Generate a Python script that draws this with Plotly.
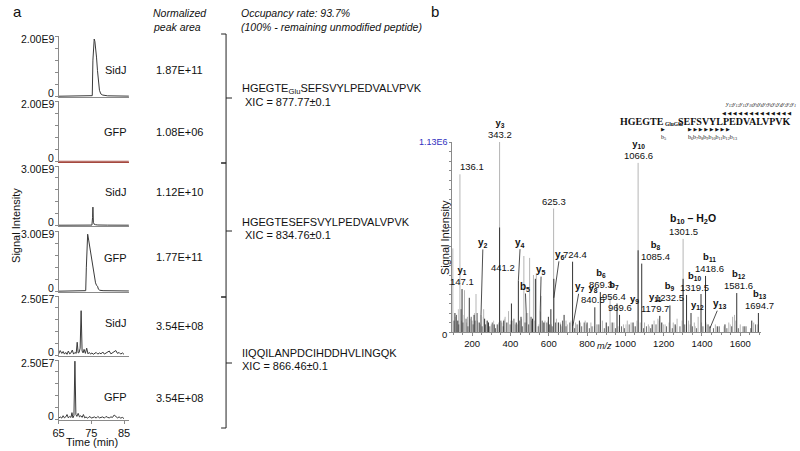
import plotly.graph_objects as go

W, H = 800, 451
FONT = "Liberation Sans, Arial, sans-serif"
SERIF = "Liberation Serif, Times New Roman, serif"
AXIS_GREY = "#8a8a8a"
RED = "#a5483f"


def px(x):
    return x / W


def py(y):
    return 1 - y / H


# ---------------- panel a: extracted ion chromatograms ----------------
t_sidj_mod = [65, 68, 71, 73, 74.5, 75.3, 75.5, 75.7, 75.9, 76.1, 76.3, 76.6,
              76.9, 77.2, 77.5, 77.9, 78.5, 80, 83, 86.5]
i_sidj_mod = [0.002e9, 0.003e9, 0.004e9, 0.005e9, 0.008e9, 0.02e9, 1.2e9, 1.75e9,
              1.9e9, 1.82e9, 1.65e9, 1.3e9, 0.85e9, 0.45e9, 0.2e9, 0.08e9, 0.04e9,
              0.015e9, 0.008e9, 0.005e9]

t_gfp_mod = [65, 86.5]
i_gfp_mod = [0, 0]

t_sidj_unmod = [65, 70, 74, 75.2, 75.4, 75.5, 75.65, 75.9, 76.3, 77, 80, 86.5]
i_sidj_unmod = [0.003e9, 0.004e9, 0.006e9, 0.01e9, 0.4e9, 0.92e9, 0.15e9, 0.05e9,
                0.03e9, 0.015e9, 0.008e9, 0.005e9]

t_gfp_unmod = [65, 70, 72.5, 73.3, 73.5, 73.7, 73.9, 74.2, 74.5, 74.8, 75.2, 75.6,
               76.0, 76.3, 76.6, 76.9, 77.2, 77.6, 78.6, 81, 86.5]
i_gfp_unmod = [0.005e9, 0.006e9, 0.01e9, 0.03e9, 1.2e9, 2.5e9, 2.84e9, 2.55e9,
               2.25e9, 1.9e9, 1.45e9, 0.95e9, 0.6e9, 0.42e9, 0.3e9, 0.25e9, 0.1e9,
               0.05e9, 0.03e9, 0.02e9, 0.015e9]

t_sidj_ctrl = [65.0, 65.5, 66.0, 66.4, 66.8, 67.2, 67.6, 68.0, 68.4, 68.8, 69.2, 69.6,
               70.0, 70.4, 70.7, 71.0, 71.3, 71.6, 71.9, 72.2, 72.5, 72.8, 73.2, 73.6,
               74.0, 74.4, 74.8, 75.2, 75.6, 76.0, 76.5, 77.0, 77.5, 78.0, 78.5, 79.0,
               79.5, 80.0, 80.5, 81.0, 81.5, 82.0, 82.5, 83.0, 83.5, 84.0, 84.5, 85.0]
i_sidj_ctrl = [0.05e7, 0.2e7, 0.08e7, 0.16e7, 0.05e7, 0.12e7, 0.04e7, 0.18e7, 0.06e7,
               0.1e7, 0.22e7, 0.05e7, 0.12e7, 0.08e7, 0.55e7, 0.1e7, 0.12e7, 0.3e7,
               1.88e7, 0.18e7, 0.1e7, 0.25e7, 0.08e7, 0.3e7, 0.06e7, 0.12e7, 0.05e7,
               0.1e7, 0.04e7, 0.08e7, 0.12e7, 0.05e7, 0.1e7, 0.06e7, 0.14e7, 0.05e7,
               0.09e7, 0.12e7, 0.18e7, 0.06e7, 0.1e7, 0.15e7, 0.2e7, 0.08e7, 0.12e7,
               0.05e7, 0.1e7, 0.04e7]

t_gfp_ctrl = [65.0, 65.5, 66.0, 66.4, 66.8, 67.2, 67.6, 68.0, 68.4, 68.8, 69.1, 69.4,
              69.7, 70.0, 70.3, 70.6, 71.0, 71.4, 71.8, 72.2, 72.6, 73.0, 73.4, 73.8,
              74.2, 74.6, 75.0, 75.5, 76.0, 76.5, 77.0, 77.5, 78.0, 78.5, 79.0, 79.5,
              80.0, 80.5, 81.0, 81.5, 82.0, 82.5, 83.0, 83.5, 84.0, 84.5, 85.0]
i_gfp_ctrl = [0.04e7, 0.1e7, 0.05e7, 0.15e7, 0.06e7, 0.1e7, 0.2e7, 0.06e7, 0.12e7,
              0.08e7, 0.28e7, 0.06e7, 0.15e7, 2.45e7, 0.2e7, 0.12e7, 0.25e7, 0.1e7,
              0.15e7, 0.08e7, 0.2e7, 0.06e7, 0.1e7, 0.05e7, 0.08e7, 0.12e7, 0.05e7,
              0.08e7, 0.1e7, 0.05e7, 0.12e7, 0.06e7, 0.08e7, 0.1e7, 0.05e7, 0.12e7,
              0.08e7, 0.06e7, 0.1e7, 0.08e7, 0.18e7, 0.12e7, 0.06e7, 0.1e7, 0.05e7,
              0.08e7, 0.03e7]

samples = ["SidJ", "GFP", "SidJ", "GFP", "SidJ", "GFP"]
peak_areas = ["1.87E+11", "1.08E+06", "1.12E+10", "1.77E+11", "3.54E+08", "3.54E+08"]
y_max = [2.0e9, 2.0e9, 3.0e9, 3.0e9, 2.5e7, 2.5e7]
y_max_labels = ["2.00E9", "2.00E9", "3.00E9", "3.00E9", "2.50E7", "2.50E7"]
traces_t = [t_sidj_mod, t_gfp_mod, t_sidj_unmod, t_gfp_unmod, t_sidj_ctrl, t_gfp_ctrl]
traces_i = [i_sidj_mod, i_gfp_mod, i_sidj_unmod, i_gfp_unmod, i_sidj_ctrl, i_gfp_ctrl]
trace_colors = ["#3a3a3a", RED, "#3a3a3a", "#3a3a3a", "#3a3a3a", "#3a3a3a"]

# pixel layout of the six stacked panels
panel_top = [36, 101, 166, 231, 296, 360]
panel_base = [97, 162, 226, 292, 356, 420]
label_y = [70, 132, 192, 258, 323, 397]
area_y = [70, 132, 192, 257, 326, 398]

# ---------------- panel b: MS/MS spectrum (relative intensity, %) ----------------
light_mz = [99, 136.1, 160, 175, 200, 220, 232, 260, 275, 300, 343.2, 355, 372, 390,
            410, 425, 470, 490, 500, 510, 520, 535, 560, 580, 625.3, 640, 660, 690,
            740, 760, 790, 820, 850, 880, 920, 940, 990, 1010, 1030, 1066.6, 1100,
            1120, 1150, 1170, 1200, 1250, 1270, 1301.5, 1330, 1360, 1380, 1420, 1470,
            1540, 1560, 1570, 1600, 1670]
light_pct = [44, 83, 22, 8, 6, 20, 5, 12, 6, 4, 100, 5, 8, 11, 6, 4, 40, 10, 39, 6,
             30, 31, 19, 6, 65, 7, 5, 6, 5, 4, 6, 5, 4, 6, 19, 5, 4, 6, 5, 89, 5, 4,
             6, 7, 4, 5, 7, 49, 6, 5, 8, 5, 4, 5, 8, 9, 4, 5]

dark_mz = [110, 125, 147.1, 185, 210, 246.2, 265, 285, 315, 343.2, 365, 405, 430,
           441.2, 455, 482.2, 515, 530, 555.4, 575, 598, 611, 626.4, 650, 680, 724.4,
           760, 800, 840.5, 869.3, 900, 956.4, 969.6, 1040, 1066.6, 1085.4, 1140,
           1179.7, 1190, 1232.5, 1260, 1301.5, 1319.5, 1342.8, 1395, 1418.6, 1441.8,
           1480, 1520, 1581.6, 1620, 1660, 1694.7]
dark_pct = [10, 6, 22.6, 18, 9, 9, 7, 5, 4, 55, 6, 15, 5, 27, 8, 10, 7, 28, 11, 5, 8,
            12, 28, 5, 9, 37, 6, 5, 13, 21, 5, 15, 9, 5, 43, 36, 4, 8.5, 5, 14, 4, 28,
            19.5, 10, 20, 29.5, 3, 3, 4, 20.5, 3, 6, 10]

noise_mz = [105, 118, 130, 142, 152, 168, 178, 195, 205, 215, 226, 238, 252, 270, 280,
            292, 305, 322, 333, 350, 362, 380, 398, 418, 448, 462, 476, 495, 508, 545,
            566, 590, 604, 618, 635, 662, 672, 690, 710, 735, 748, 772, 785, 812, 826,
            858, 890, 912, 932, 948, 980, 995, 1020, 1052, 1095, 1110, 1132, 1160,
            1215, 1245, 1285, 1310, 1350, 1372, 1405, 1432, 1460, 1490, 1530, 1555,
            1590, 1630, 1655, 1680]
noise_pct = [6, 9, 4, 12, 5, 7, 3, 8, 4, 6, 10, 5, 3, 4, 6, 3, 5, 2, 4, 6, 3, 5, 4, 7,
             6, 3, 5, 4, 8, 3, 6, 5, 4, 3, 5, 4, 6, 3, 5, 2, 4, 3, 5, 2, 3, 4, 2, 3, 5,
             2, 3, 2, 4, 3, 2, 3, 2, 4, 3, 2, 3, 4, 3, 2, 3, 4, 2, 3, 2, 3, 2, 3, 2, 4]

grass_mz = [112, 128, 145, 157, 172, 190, 212, 228, 243, 258, 285, 312, 328, 338, 368,
            385, 402, 436, 458, 486, 503, 526, 548, 572, 596, 614, 650, 668, 698, 716,
            730, 766, 796, 838, 866, 905, 926, 962, 1003, 1045, 1060, 1078, 1125, 1176,
            1208, 1228, 1264, 1296, 1338, 1365, 1398, 1426, 1515, 1548, 1576, 1612, 1690]
grass_pct = [8, 12, 6, 9, 5, 7, 10, 6, 4, 8, 5, 6, 4, 5, 7, 5, 6, 4, 7, 5, 8, 6, 4, 5,
             6, 4, 5, 3, 4, 6, 3, 5, 4, 3, 4, 3, 5, 3, 4, 3, 6, 5, 3, 6, 4, 5, 3, 6, 4,
             3, 5, 4, 3, 4, 6, 3, 4]

mz_ticks = [200, 400, 600, 800, 1000, 1200, 1400, 1600]


def sticks(mz, pct):
    xs, ys = [], []
    for m, p in zip(mz, pct):
        xs += [m, m, None]
        ys += [0, p, None]
    return xs, ys


fig = go.Figure()
layout = dict(
    width=W, height=H, margin=dict(l=0, r=0, t=0, b=0),
    paper_bgcolor="white", plot_bgcolor="white", showlegend=False,
    font=dict(family=FONT, size=11, color="#111"),
)

ann = []


def text(x, y, s, size=11, xanchor="left", italic=False, family=FONT, angle=0,
         color="#111", yanchor="middle"):
    ann.append(dict(
        x=px(x), y=py(y), xref="paper", yref="paper", text=s, showarrow=False,
        xanchor=xanchor, yanchor=yanchor, textangle=angle, borderpad=0,
        font=dict(size=size, family=family, color=color,
                  style="italic" if italic else "normal"),
    ))


for k in range(6):
    n = k + 1
    sfx = "" if n == 1 else str(n)
    fig.add_trace(go.Scatter(
        x=traces_t[k], y=traces_i[k], mode="lines",
        line=dict(color=trace_colors[k], width=1.0),
        xaxis="x" + sfx, yaxis="y" + sfx, hoverinfo="skip",
    ))
    top = y_max[k]
    layout["xaxis" + sfx] = dict(
        domain=[px(53), px(124)], range=[65, 86.5], anchor="y" + sfx,
        showline=True, linecolor=RED if n == 2 else AXIS_GREY, linewidth=1,
        showgrid=False, zeroline=False,
        ticks="outside" if n == 6 else "", ticklen=3, tickcolor=AXIS_GREY,
        tickvals=[65, 75, 85] if n == 6 else [], showticklabels=(n == 6),
        tickfont=dict(size=11),
    )
    layout["yaxis" + sfx] = dict(
        domain=[py(panel_base[k]), py(panel_top[k])], range=[-0.012 * top, top],
        anchor="x" + sfx, showline=True, linecolor=AXIS_GREY, linewidth=1,
        showgrid=False, zeroline=False, ticks="outside", ticklen=3,
        tickcolor=AXIS_GREY, showticklabels=False,
        tickvals=[top * j / 5 for j in range(6)],
    )
    # y labels kept as text so that "0" and the next panel's maximum do not collide
    text(49, panel_base[k] - 4, "0", size=10.5, xanchor="right")
    text(49, panel_top[k] + 3, y_max_labels[k], size=10.5, xanchor="right")
    text(110, label_y[k], samples[k], size=11, xanchor="center")
    text(150, area_y[k], peak_areas[k], size=11)

gx, gy = sticks(grass_mz, grass_pct)
lx, ly = sticks(light_mz, light_pct)
nx, ny = sticks(noise_mz, noise_pct)
dx, dy = sticks(dark_mz, dark_pct)
fig.add_trace(go.Scatter(x=gx, y=gy, mode="lines", line=dict(color="#c4c4c4", width=1),
                         xaxis="x7", yaxis="y7", hoverinfo="skip"))
fig.add_trace(go.Scatter(x=lx, y=ly, mode="lines", line=dict(color="#b5b5b5", width=1),
                         xaxis="x7", yaxis="y7", hoverinfo="skip"))
fig.add_trace(go.Scatter(x=nx, y=ny, mode="lines", line=dict(color="#444", width=0.8),
                         xaxis="x7", yaxis="y7", hoverinfo="skip"))
fig.add_trace(go.Scatter(x=dx, y=dy, mode="lines", line=dict(color="#333", width=1),
                         xaxis="x7", yaxis="y7", hoverinfo="skip"))

layout["xaxis7"] = dict(
    domain=[px(450), px(762)], range=[95, 1710], anchor="y7",
    showline=True, linecolor=AXIS_GREY, linewidth=1, showgrid=False, zeroline=False,
    ticks="outside", ticklen=3, tickcolor=AXIS_GREY, tickvals=mz_ticks,
    minor=dict(ticks="outside", dtick=50, ticklen=2, tickcolor=AXIS_GREY),
    tickfont=dict(size=9.5),
)
layout["yaxis7"] = dict(
    domain=[py(332), py(142)], range=[0, 100], anchor="x7",
    showline=True, linecolor=AXIS_GREY, linewidth=1, showgrid=False, zeroline=False,
    ticks="outside", ticklen=2.5, tickcolor=AXIS_GREY,
    tickvals=[5 * j for j in range(21)], showticklabels=False,
)

# panel a texts
text(6, 11, "a", size=15)
text(428, 11, "b", size=15)
text(10, 225, "Signal Intensity", size=11, xanchor="center", angle=-90)
text(87, 442, "Time (min)", size=11, xanchor="center")
text(147, 13, "Normalized", size=10.5, italic=True)
text(147, 27, "peak area", size=10.5, italic=True)
text(236, 13, "Occupancy rate: 93.7%", size=10.5, italic=True)
text(236, 27, "(100% - remaining unmodified peptide)", size=10.5, italic=True)

text(237, 89, "HGEGTE<sub>Glu</sub>SEFSVYLPEDVALVPVK", size=11)
text(240, 102, "XIC = 877.77±0.1", size=11)
text(237, 222, "HGEGTESEFSVYLPEDVALVPVK", size=11)
text(240, 235, "XIC = 834.76±0.1", size=11)
text(237, 353, "IIQQILANPDCIHDDHVLINGQK", size=11)
text(237, 366, "XIC = 866.46±0.1", size=11)

# panel b texts
text(443, 238, "Signal Intensity", size=11, xanchor="center", angle=-90)
text(447, 142, "1.13E6", size=9, xanchor="right", color="#3030c0")
text(446, 334, "0", size=9.5, xanchor="right")
text(604, 346, "m/z", size=9, xanchor="center", italic=True)

# peptide fragmentation map
text(792, 121, "<b>SEFSVYLPEDVALVPVK</b>", size=10, xanchor="right", family=SERIF)
text(684, 124, "<b>GluGlu</b>", size=5.5, xanchor="right", family=SERIF)
text(665, 121, "<b>HGEGTE</b>", size=10, xanchor="right", family=SERIF)
text(798, 105, "y<sub>13</sub>y<sub>12</sub>y<sub>11</sub>y<sub>10</sub>y<sub>9</sub>"
     "y<sub>8</sub>y<sub>7</sub>y<sub>6</sub>y<sub>5</sub>y<sub>4</sub>y<sub>3</sub>"
     "y<sub>2</sub>y<sub>1</sub>", size=6, xanchor="right", italic=True, family=SERIF)
text(793, 113, "◀ ◀ ◀ ◀ ◀ ◀ ◀ ◀ ◀ ◀ ◀ ◀ ◀", size=5, xanchor="right",
     family="DejaVu Sans")
text(663, 129, "▶", size=5, xanchor="center", family="DejaVu Sans")
text(687, 129, "▶ ▶ ▶ ▶ ▶ ▶ ▶ ▶", size=5, family="DejaVu Sans")
text(663, 138, "b<sub>5</sub>", size=6, xanchor="center", family=SERIF)
text(687, 138, "b<sub>6</sub>b<sub>7</sub>b<sub>8</sub>b<sub>9</sub>b<sub>10</sub>"
     "b<sub>11</sub>b<sub>12</sub>b<sub>13</sub>", size=6, family=SERIF)


def peak_label(mz, pct, s, xshift=0, yshift=1, xanchor="center", size=9.5):
    ann.append(dict(
        x=mz, y=pct, xref="x7", yref="y7", text=s, showarrow=False, borderpad=0,
        xanchor=xanchor, yanchor="bottom", xshift=xshift, yshift=yshift,
        font=dict(size=size, family=FONT, color="#111"),
    ))


def arrow_label(mz, pct, s, ax, ay):
    ann.append(dict(
        x=mz, y=pct, xref="x7", yref="y7", text=s, showarrow=True, arrowhead=0,
        arrowwidth=0.8, arrowcolor="#222", ax=ax, ay=ay, standoff=0, borderpad=0,
        font=dict(size=10, family=FONT, color="#111"),
    ))


def ion(name, sub, extra=""):
    return f"<b>{name}<sub>{sub}</sub>{extra}</b>"


peak_label(147.1, 22.6, ion("y", 1) + "<br>147.1")
peak_label(343.2, 100, ion("y", 3) + "<br>343.2")
peak_label(1066.6, 89, ion("y", 10) + "<br>1066.6")
peak_label(840.5, 13, ion("y", 8) + "<br>840.5", xshift=-2)
peak_label(869.3, 21, ion("b", 6) + "<br>869.3", xshift=1)
peak_label(956.4, 15, ion("b", 7) + "<br>956.4", xshift=-3)
peak_label(1232.5, 14, ion("b", 9) + "<br>1232.5")
peak_label(1179.7, 8.5, ion("y", 11) + "<br>1179.7", xshift=-5)
peak_label(1418.6, 29.5, ion("b", 11) + "<br>1418.6", xshift=4)
peak_label(1581.6, 20.5, ion("b", 12) + "<br>1581.6", xshift=2)
peak_label(1694.7, 10, ion("b", 13) + "<br>1694.7", xshift=1)
peak_label(1319.5, 19.5, ion("b", 10) + "<br>1319.5", xshift=8)
peak_label(1085.4, 36, ion("b", 8) + "<br>1085.4", xanchor="left", xshift=-2)
peak_label(1301.5, 49, "1301.5")
peak_label(1301.5, 49, "<b>b<sub>10</sub> – H<sub>2</sub>O</b>", xshift=10, yshift=12,
           size=10.5)
peak_label(136.1, 83, "136.1", xanchor="left", xshift=-1)
peak_label(441.2, 27, "441.2", xanchor="right", xshift=-2, yshift=7)
peak_label(625.3, 65, "625.3")
peak_label(724.4, 37, "724.4", xshift=2)
peak_label(969.6, 9, "969.6")
peak_label(969.6, 9, ion("y", 9), xshift=15, yshift=9)
peak_label(1342.8, 10, ion("y", 12), xshift=6)

arrow_label(246.2, 9, ion("y", 2), 2, -72)
arrow_label(441.2, 27, ion("y", 4), 2, -38)
arrow_label(482.2, 10, ion("b", 5), -1, -26)
arrow_label(555.4, 11, ion("y", 5), 1, -41)
arrow_label(626.4, 18, ion("y", 6), 6, -43)
arrow_label(725.5, 3, ion("y", 7), 7, -39)
arrow_label(1441.8, 2, ion("y", 13), 10, -24)

layout["annotations"] = ann

# brackets grouping the chromatogram pairs
shapes = []
for top, mid, bot in [(34, 98, 163), (163, 231, 297), (297, 363, 428)]:
    shapes.append(dict(
        type="path", xref="paper", yref="paper",
        path=(f"M {px(217)} {py(top)} L {px(222)} {py(top)} L {px(222)} {py(bot)} "
              f"L {px(217)} {py(bot)} M {px(222)} {py(mid)} L {px(228)} {py(mid)}"),
        line=dict(color="#222", width=1),
    ))
layout["shapes"] = shapes

fig.update_layout(**layout)
# drop the page's default body margin so the figure sits flush in the window
fig.write_html("out.html", config={"displayModeBar": False},
               post_script="document.body.style.margin='0';")
